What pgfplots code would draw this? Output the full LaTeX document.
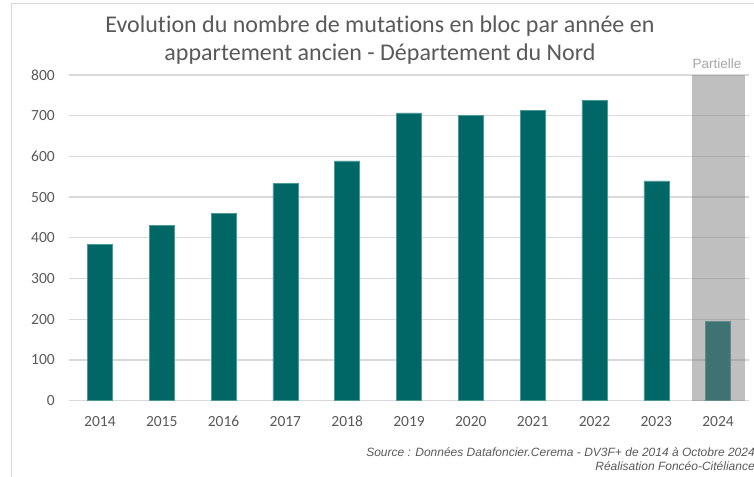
\documentclass[border=0pt]{standalone}
\usepackage{pgfplots}
\pgfplotsset{compat=1.18}
\usepackage{fontspec}
\setmainfont{Carlito}[Ligatures=NoCommon]
\newfontfamily\arialfont{Liberation Sans}
\definecolor{barteal}{HTML}{006666}
\definecolor{baredge}{HTML}{4A9A98}
\definecolor{txtgray}{HTML}{595959}
\definecolor{gridgray}{HTML}{D9D9D9}
\definecolor{overgray}{HTML}{7F7F7F}
\definecolor{partgray}{HTML}{A6A6A6}
\begin{document}
\begin{tikzpicture}[x=1pt,y=1pt]
\useasboundingbox (0,0) rectangle (754,476);
\draw[gridgray, line width=1pt] (11,-5) -- (11,472) -- (760,472);
\begin{axis}[
  at={(69pt,75.3pt)}, anchor=south west,
  scale only axis, width=680pt, height=325.7pt,
  xmin=-0.5, xmax=10.5, ymin=0, ymax=800,
  axis line style={draw=none},
  ytick={0,100,...,800},
  ymajorgrids, grid style={gridgray, line width=1.3pt},
  xtick={0,...,10},
  xticklabels={2014,2015,2016,2017,2018,2019,2020,2021,2022,2023,2024},
  major tick length=0pt,
  tick label style={text=txtgray, font=\fontsize{15.5}{18}\selectfont, inner sep=0pt},
  /pgf/number format/assume math mode=true,
  yticklabel style={anchor=east, xshift=-14pt},
  xticklabel style={anchor=center, yshift=-21pt},
  clip=false,
]
\addplot[ybar, bar width=25pt, bar shift=0pt, fill=barteal, draw=baredge, line width=0.5pt]
  coordinates {(0,384) (1,431) (2,461) (3,534) (4,589) (5,707) (6,701) (7,713) (8,738) (9,540) (10,194)};
\addplot[ybar, bar width=53pt, bar shift=0pt, fill=overgray, fill opacity=0.5, draw=none]
  coordinates {(10,800)};
\end{axis}
\node[text=txtgray, font=\fontsize{24}{28}\selectfont, align=center] at (380,436)
  {Evolution du nombre de mutations en bloc par année en\\appartement ancien - Département du Nord};
\node[text=partgray, font=\arialfont\fontsize{13.5}{16}\selectfont, inner sep=0pt] at (717,412) {Partielle};
\node[text=txtgray, font=\arialfont\itshape\fontsize{12}{14}\selectfont, align=right, anchor=east, inner sep=0pt] at (755,17)
  {Source : Données Datafoncier.Cerema - DV3F+ de 2014 à Octobre 2024\\Réalisation Foncéo-Citéliance};
\end{tikzpicture}
\end{document}
